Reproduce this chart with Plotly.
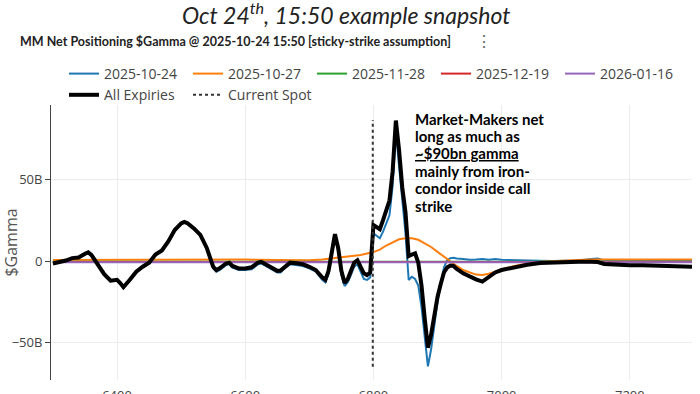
import plotly.graph_objects as go

# ---------------- data (values in $bn) ----------------
strikes = [6300, 6310, 6320, 6330, 6340, 6350, 6355, 6360, 6370, 6380,
           6390, 6400, 6405, 6410, 6420, 6430, 6440, 6450, 6460, 6470,
           6480, 6490, 6500, 6505, 6510, 6520, 6530, 6540, 6550, 6555,
           6560, 6570, 6575, 6580, 6590, 6600, 6610, 6620, 6625, 6630,
           6640, 6650, 6655, 6660, 6670, 6680, 6690, 6700, 6710, 6720,
           6725, 6730, 6735, 6740, 6745, 6750, 6755, 6760, 6765, 6770,
           6775, 6780, 6785, 6790, 6795, 6800, 6805, 6810, 6815, 6820,
           6825, 6830, 6835, 6840, 6845, 6850, 6855, 6860, 6865, 6870,
           6875, 6880, 6885, 6890, 6895, 6900, 6905, 6910, 6915, 6920,
           6925, 6930, 6940, 6950, 6960, 6970, 6980, 6990, 7000, 7020,
           7040, 7060, 7080, 7100, 7120, 7140, 7150, 7160, 7180, 7200,
           7220, 7240, 7260, 7280, 7300]

all_expiries = [-1.5, -0.8, 0.3, 1.8, 2.2, 4.5, 5.3, 3.8, -2, -8,
                -12, -11.5, -13.5, -16, -11.5, -6.5, -3.5, -1, 4, 6.5,
                12, 19, 23, 24, 23.2, 20, 16, 8, -3.5, -5.5,
                -4.5, -1.5, -1, -3, -4.5, -4.5, -3.8, -1, -0.5, -1.5,
                -3.5, -6, -5.8, -4, -1, -1.3, -2, -3.5, -5.5, -10,
                -11.5, -6, 5, 16.5, 8, -6, -13.5, -11, -6, -1,
                0.5, -3, -7.5, -8.6, -7, 22, 21, 19.5, 25, 31,
                37, 55, 86, 68, 45, 30, 3, 4, 4.7, -1,
                -15, -35, -53, -45, -33, -22, -14, -7, -4, -2.8,
                -3, -4.8, -7.5, -9.5, -11.2, -12.6, -10, -7, -5.5, -3.8,
                -2.3, -1.2, -0.8, -0.6, -0.5, -0.4, -0.6, -1.8, -2.4, -2.5,
                -2.6, -2.8, -3.0, -3.2, -3.5]

exp_1024 = [-1.5, -1, 0.5, 1.5, 2, 4, 4.8, 3.3, -2.5, -8.5,
            -12.5, -12, -14, -16.5, -12, -7, -4, -1.5, 3.5, 6,
            11.5, 18.5, 22.5, 23.5, 22.7, 19.5, 15.5, 7.5, -4.5, -6.5,
            -5.5, -2.5, -2, -4, -5.5, -5.5, -5, -2, -1.5, -2.5,
            -4.5, -7, -7, -5, -2, -2.3, -3, -4.5, -6.5, -11.5,
            -13, -8, 3, 14.5, 6, -8.5, -15.3, -13, -8.5, -3.5,
            -2, -6.5, -11, -11.6, -10, 17, 15.5, 14, 18, 23,
            28, 46, 80, 58, 35, 17, -11.6, -9.6, -11, -15,
            -28, -48, -64.5, -54, -38, -25, -14, -4, 0.5, 1.8,
            2, 1.5, 1.2, 0.8, 1, 1.3, 0.8, 1.2, 0.8, 0.5,
            0.3, 0.2, 0.1, 0.2, 0.4, 1.2, 1.5, 0.3, 0, 0,
            0, 0, 0, 0, 0]

orange_strikes = [6300, 6350, 6400, 6450, 6500, 6550, 6600, 6650, 6700, 6720,
                  6740, 6760, 6780, 6800, 6810, 6820, 6830, 6840, 6850, 6860,
                  6870, 6880, 6890, 6900, 6910, 6920, 6930, 6940, 6950, 6960,
                  6970, 6980, 6990, 7000, 7020, 7040, 7060, 7080, 7100, 7120,
                  7140, 7160, 7200, 7250, 7300]
exp_1027 = [0.6, 0.7, 0.8, 0.9, 1.0, 1.1, 0.9, 0.6, 0.5, 1.0,
            1.8, 2.7, 3.7, 5.5, 7.0, 9.5, 11.5, 13.3, 14.0, 14.0,
            13.0, 10.8, 8.6, 5.6, 2.6, -0.3, -3.0, -5.5, -7.0, -8.3,
            -8.6, -7.8, -6.5, -5.0, -3.0, -1.5, -0.5, 0.0, 0.4, 0.7,
            0.9, 1.0, 1.0, 1.0, 1.0]

far_strikes = [6300, 6500, 6700, 6800, 6900, 7100, 7300]
exp_1128 = [-0.4, -0.4, -0.5, -0.6, -0.6, -0.5, -0.5]
exp_1219 = [-0.6, -0.6, -0.6, -0.7, -0.7, -0.6, -0.6]
exp_0116 = [-0.8, -0.8, -0.8, -0.8, -0.8, -0.8, -0.8]

spot = 6799
spot_span = [-64.7, 86.3]

x_ticks = [6400, 6600, 6800, 7000, 7200]
y_ticks = [-50, 0, 50]
y_ticktext = ["\u221250B", "0", "50B"]

note_lines = ["Market-Makers net", "long as much as", "<u>~$90bn gamma</u>",
              "mainly from iron-", "condor inside call", "strike"]

# ---------------- figure ----------------
L, T, PW, PH = 51, 105, 641, 275  # plot area in px


def px_x(px):
    return (px - L) / PW


def px_y(py):
    return 1 - (py - T) / PH


fig = go.Figure()
series = [
    ("2025-10-24", strikes, exp_1024, "#1f77b4"),
    ("2025-10-27", orange_strikes, exp_1027, "#ff7f0e"),
    ("2025-11-28", far_strikes, exp_1128, "#2ca02c"),
    ("2025-12-19", far_strikes, exp_1219, "#d62728"),
    ("2026-01-16", far_strikes, exp_0116, "#9467bd"),
]
for name, xs, ys, col in series:
    fig.add_trace(go.Scatter(x=xs, y=ys, name=name, mode="lines",
                             line=dict(color=col, width=2)))
fig.add_trace(go.Scatter(x=strikes, y=all_expiries, name="All Expiries", mode="lines",
                         line=dict(color="black", width=4)))
fig.add_trace(go.Scatter(x=[spot, spot], y=spot_span, name="Current Spot", mode="lines",
                         line=dict(color="#333", width=2, dash="dot")))

fig.update_layout(
    width=700, height=394,
    margin=dict(l=L, r=700 - L - PW, t=T, b=394 - T - PH, autoexpand=False),
    paper_bgcolor="white", plot_bgcolor="white",
    font=dict(family="Open Sans", size=12, color="#444"),
    legend=dict(orientation="h", x=px_x(64), xanchor="left", y=px_y(58), yanchor="top",
                entrywidth=79, font=dict(size=14, color="#444"),
                bgcolor="rgba(0,0,0,0)", tracegroupgap=0),
    xaxis=dict(range=[6297, 7297], tickvals=x_ticks, showgrid=True, gridcolor="#ececec",
               zeroline=False, showline=False, automargin=False, ticklabelstandoff=6,
               tickfont=dict(size=13, color="#444")),
    yaxis=dict(range=[-72.8, 95.5], tickvals=y_ticks, ticktext=y_ticktext,
               showgrid=True, gridcolor="#ececec", zeroline=False,
               showline=True, linecolor="#444", linewidth=1,
               ticks="outside", ticklen=5, tickcolor="#444", automargin=False,
               tickfont=dict(size=13, color="#444"),
               title=dict(text="$Gamma", font=dict(size=16, color="#555"))),
)

fig.add_annotation(text="<i>Oct 24<sup>th</sup>, 15:50 example snapshot</i>",
                   xref="paper", yref="paper", x=px_x(346), y=px_y(13),
                   xanchor="center", yanchor="middle", showarrow=False,
                   font=dict(family="Lato", size=23, color="#222"))
fig.add_annotation(text="<b>MM Net Positioning $Gamma @ 2025-10-24 15:50 [sticky-strike assumption]</b>",
                   xref="paper", yref="paper", x=px_x(18), y=px_y(41),
                   xanchor="left", yanchor="middle", showarrow=False,
                   font=dict(family="Lato", size=12.5, color="#222"))
fig.add_annotation(text="\u22ee", xref="paper", yref="paper",
                   x=px_x(484), y=px_y(41),
                   xanchor="center", yanchor="middle", showarrow=False,
                   font=dict(size=16, color="#666"))
for i, line in enumerate(note_lines):
    fig.add_annotation(text="<b>" + line + "</b>", xref="paper", yref="paper",
                       x=px_x(413), y=px_y(118.5 + 17.4 * i),
                       xanchor="left", yanchor="middle", align="left", showarrow=False,
                       font=dict(family="Lato", size=15, color="black"))

fig.write_html("out.html", config={"displayModeBar": False},
               post_script="document.body.style.margin='0';document.body.style.overflow='hidden';")
